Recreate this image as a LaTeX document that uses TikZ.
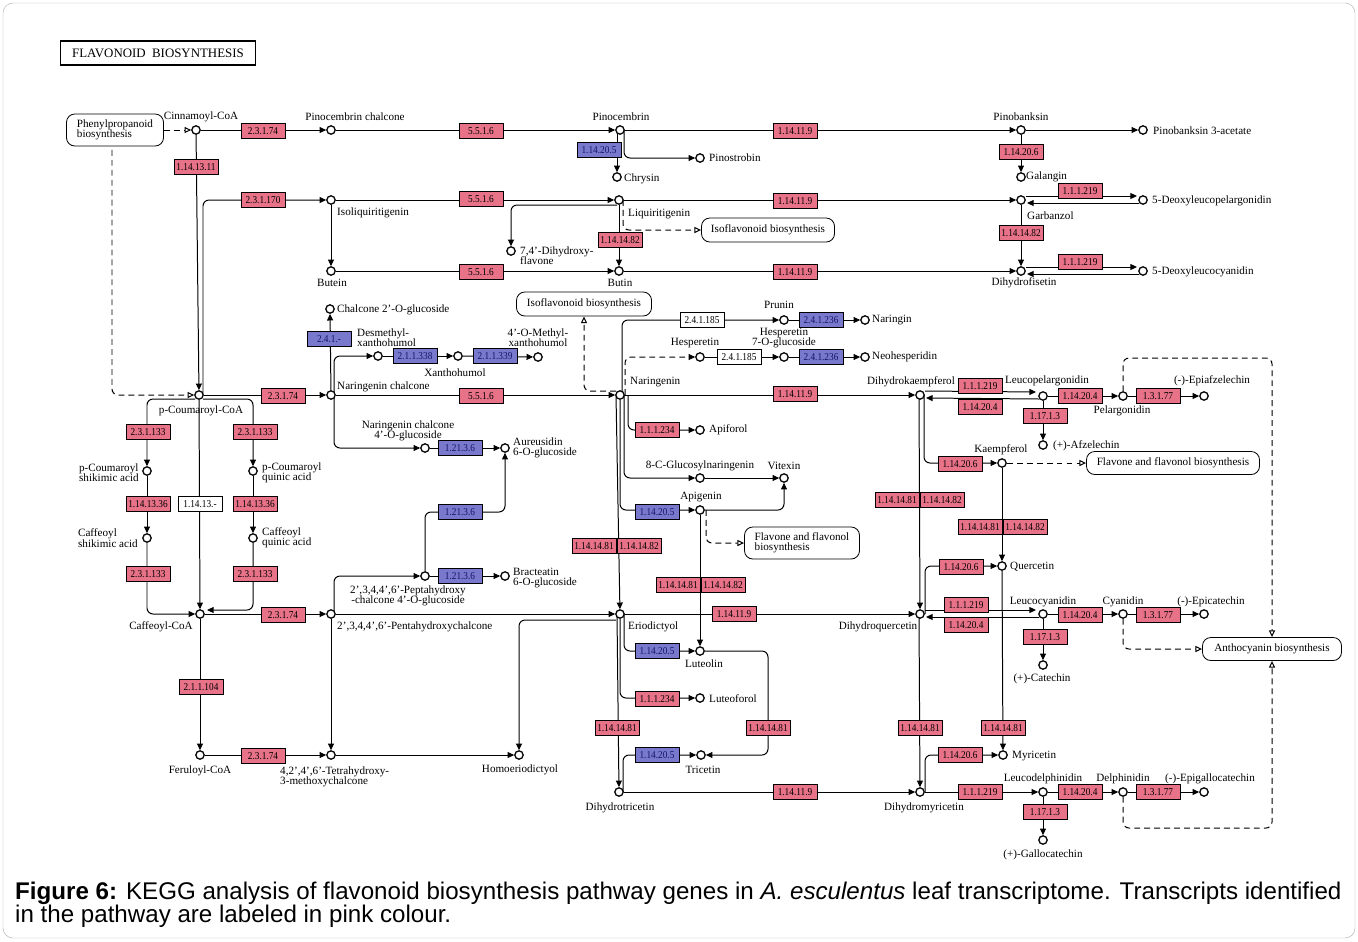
\documentclass[tikz,border=0pt]{standalone}
\usepackage{fontspec}
\setmainfont{Liberation Serif}
\newfontfamily\capfont{Liberation Sans}
\newfontfamily\enzfont{Liberation Serif}[FakeStretch=0.88]
\usetikzlibrary{arrows.meta, calc, backgrounds}
\definecolor{enzpink}{RGB}{232,114,136}
\definecolor{enzblue}{RGB}{120,120,204}
\definecolor{enzbluetext}{RGB}{20,20,105}
\tikzstyle{cpd} = [circle, draw=black, fill=white, line width=1.1pt,
minimum size=0.25cm, inner sep=0pt]
\tikzstyle{enz} = [rectangle, draw=black, fill=enzpink, line width=0.6pt,
minimum width=1.32cm, minimum height=0.44cm, inner sep=0pt,
font=\enzfont\fontsize{9}{9}\selectfont]
\tikzstyle{enzb} = [enz, fill=enzblue, text=enzbluetext]
\tikzstyle{enzw} = [enz, fill=white]
\tikzstyle{map} = [rectangle, rounded corners=0.25cm, draw=black, fill=white,
line width=0.7pt, font=\fontsize{9.5}{9}\selectfont]
\tikzstyle{lbl} = [inner sep=0pt, align=center, font=\fontsize{9.5}{8.8}\selectfont]
\tikzstyle{arrow} = [line width=0.85pt, rounded corners=0.18cm,
-{Triangle[length=2mm,width=1.8mm]}]
\tikzstyle{dasharrow} = [arrow, dash pattern=on 5pt off 3.5pt]
\tikzstyle{maplink} = [line width=0.85pt, rounded corners=0.18cm,
dash pattern=on 5pt off 3.5pt, -{Triangle[open,length=2mm,width=1.8mm]}]

\begin{document}
\begin{tikzpicture}[x=0.03cm, y=-0.03cm]
\useasboundingbox (0,0) rectangle (1358,941);
\draw[gray!60, rounded corners=0.3cm] (3,3) rectangle (1355,938);

% Titre
\node[draw, line width=1.2pt, minimum width=5.85cm, minimum height=0.72cm,
  font=\fontsize{11}{11}\selectfont] (title) at (158,53) {FLAVONOID\ \ BIOSYNTHESIS};

% Cartes voisines
\node[map, minimum width=2.91cm, minimum height=0.96cm, align=left] (mphe) at (115,130) {Phenylpropanoid\\biosynthesis};
\node[map, minimum width=3.99cm, minimum height=0.72cm] (miso1) at (768,230) {Isoflavonoid biosynthesis};
\node[map, minimum width=4.05cm, minimum height=0.72cm] (miso2) at (584,304) {Isoflavonoid biosynthesis};
\node[map, minimum width=3.45cm, minimum height=0.96cm, align=left] (mflv1) at (802,543) {Flavone and flavonol\\biosynthesis};
\node[map, minimum width=5.19cm, minimum height=0.69cm] (mflv2) at (1173,463) {Flavone and flavonol biosynthesis};
\node[map, minimum width=4.17cm, minimum height=0.69cm] (mant) at (1272,649) {Anthocyanin biosynthesis};

% Composes
\node[cpd] (cin) at (196,130) {};
\node[cpd] (pcc) at (331,130) {};
\node[cpd] (pic) at (620,130) {};
\node[cpd] (pbk) at (1021,130) {};
\node[cpd] (pba) at (1143,130) {};
\node[cpd] (gal) at (1021,177) {};
\node[cpd] (chr) at (617,177) {};
\node[cpd] (pst) at (700,158) {};
\node[cpd] (iso) at (331,200) {};
\node[cpd] (liq) at (619,200) {};
\node[cpd] (gar) at (1021,200) {};
\node[cpd] (dlp) at (1143,200) {};
\node[cpd] (dhf) at (511,251) {};
\node[cpd] (but) at (331,271) {};
\node[cpd] (btn) at (619,271) {};
\node[cpd] (dfi) at (1021,271) {};
\node[cpd] (dlc) at (1143,271) {};
\node[cpd] (c2g) at (330,309) {};
\node[cpd] (dxa) at (378,356) {};
\node[cpd] (xan) at (458,356) {};
\node[cpd] (mxa) at (538,357) {};
\node[cpd] (pru) at (784,320) {};
\node[cpd] (nrg) at (865,320) {};
\node[cpd] (hes) at (700,357) {};
\node[cpd] (h7g) at (784,357) {};
\node[cpd] (neo) at (865,357) {};
\node[cpd] (pco) at (199,395) {};
\node[cpd] (nch) at (331,395) {};
\node[cpd] (nar) at (620,395) {};
\node[cpd] (dhk) at (920,395) {};
\node[cpd] (lpg) at (1043,396) {};
\node[cpd] (pel) at (1123,396) {};
\node[cpd] (epa) at (1204,396) {};
\node[cpd] (afz) at (1043,445) {};
\node[cpd] (n4g) at (425,448) {};
\node[cpd] (aur) at (505,448) {};
\node[cpd] (apf) at (700,430) {};
\node[cpd] (kae) at (1002,463) {};
\node[cpd] (pcs) at (147,471) {};
\node[cpd] (pcq) at (253,471) {};
\node[cpd] (cgn) at (700,478) {};
\node[cpd] (vit) at (784,478) {};
\node[cpd] (api) at (700,510) {};
\node[cpd] (cfs) at (147,538) {};
\node[cpd] (cfq) at (253,538) {};
\node[cpd] (que) at (1002,566) {};
\node[cpd] (p4g) at (425,576) {};
\node[cpd] (bra) at (505,576) {};
\node[cpd] (cfc) at (200,614) {};
\node[cpd] (phc) at (331,614) {};
\node[cpd] (eri) at (620,614) {};
\node[cpd] (dhq) at (920,614) {};
\node[cpd] (lcy) at (1043,614) {};
\node[cpd] (cya) at (1123,614) {};
\node[cpd] (epc) at (1204,614) {};
\node[cpd] (cat) at (1043,665) {};
\node[cpd] (lut) at (700,651) {};
\node[cpd] (ltf) at (700,698) {};
\node[cpd] (fer) at (200,755) {};
\node[cpd] (thc) at (331,755) {};
\node[cpd] (hom) at (519,755) {};
\node[cpd] (tri) at (701,755) {};
\node[cpd] (myr) at (1003,755) {};
\node[cpd] (dht) at (619,792) {};
\node[cpd] (dhm) at (920,792) {};
\node[cpd] (ldp) at (1043,792) {};
\node[cpd] (del) at (1123,792) {};
\node[cpd] (egc) at (1204,792) {};
\node[cpd] (gca) at (1043,840) {};

% Reactions (sous les noeuds)
\begin{pgfonlayer}{background}
\draw[maplink] (mphe) -- (cin);
\draw[maplink] ($(mphe)+(-3,0)$) |- (pco);
\draw[arrow] (cin) -- (pcc);
\draw[arrow] (pcc) -- (pic);
\draw[arrow] (pic) -- (pbk);
\draw[arrow] (pbk) -- (pba);
\draw[arrow] (pbk) -- (gal);
\draw[arrow] ($(pic)+(-3,0)$) -- (chr);
\draw[arrow] ($(pic)+(4,0)$) |- (pst);
\draw[arrow] (cin) -- (pco);
\draw[arrow] ($(pco)+(4,0)$) |- (iso);
\draw[arrow] (iso) -- (liq);
\draw[arrow] (liq) -- (gar);
\draw[arrow] (iso) -- (but);
\draw[arrow] ($(liq)+(-2,5)$) -| (dhf);
\draw[arrow] (liq) -- (btn);
\draw[maplink] ($(liq)+(4,0)$) |- (miso1);
\draw[arrow] (but) -- (btn);
\draw[arrow] (btn) -- (dfi);
\draw[arrow] (gar) -- (dfi);
\draw[arrow] ($(gar)+(5,-4)$) -- ($(dlp)+(-6,-4)$);
\draw[arrow] ($(dlp)+(-4,3)$) -- ($(gar)+(6,3)$);
\draw[arrow] ($(dfi)+(5,-4)$) -- ($(dlc)+(-6,-4)$);
\draw[arrow] ($(dlc)+(-4,3)$) -- ($(dfi)+(6,3)$);
% chalcones
\draw[arrow] (nch) -- (c2g);
\draw[arrow] ($(nch)+(3,0)$) |- (dxa);
\draw[arrow] ($(nch)+(3,0)$) |- (n4g);
\draw[arrow] (dxa) -- (xan);
\draw[arrow] (xan) -- (mxa);
\draw[arrow] (n4g) -- (aur);
\draw[arrow] ($(phc)+(3,0)$) |- (p4g);
\draw[arrow] (p4g) -- (bra);
\draw[arrow] (p4g) |- ($(aur)+(0,64)$) -- (aur);
% p-coumaroyl-CoA
\draw[arrow] (pco) -- (nch);
\draw[arrow] ($(pco)+(-4,4)$) -| (pcs);
\draw[arrow] ($(pco)+(4,4)$) -| (pcq);
\draw[arrow] (pcs) -- (cfs);
\draw[arrow] (pcq) -- (cfq);
\draw[arrow] (cfs) |- (cfc);
\draw[arrow] (cfq) |- ($(cfc)+(7,-4)$);
\draw[arrow] (pco) -- (cfc);
\draw[arrow] (cfc) -- (phc);
\draw[arrow] (cfc) -- (fer);
\draw[arrow] (fer) -- (thc);
\draw[arrow] (phc) -- (thc);
\draw[arrow] (phc) -- (eri);
\draw[arrow] (thc) -- (hom);
\draw[arrow] ($(eri)+(-4,6)$) -| (hom);
% naringenine
\draw[arrow] (nch) -- (nar);
\draw[arrow] (nar) -- (dhk);
\draw[arrow] ($(nar)+(-4,0)$) -- (eri);
\draw[arrow] (nar) |- (api);
\draw[arrow] ($(nar)+(4,0)$) |- (cgn);
\draw[arrow] ($(nar)+(8,0)$) |- (apf);
\draw[arrow] ($(nar)+(2,0)$) |- (pru);
\draw[dasharrow] ($(nar)+(5,0)$) |- (hes);
\draw[maplink] ($(nar)+(-4,-4)$) -| (miso2);
\draw[arrow] (pru) -- (nrg);
\draw[arrow] (hes) -- (h7g);
\draw[arrow] (h7g) -- (neo);
\draw[arrow] (cgn) -- (vit);
\draw[arrow] (api) -| (vit);
\draw[maplink] ($(api)+(6,0)$) |- (mflv1);
\draw[arrow] (api) -- (lut);
% eriodictyol
\draw[arrow] ($(eri)+(4,0)$) |- (lut);
\draw[arrow] (eri) |- (ltf);
\draw[arrow] ($(eri)+(-3,0)$) -- (dht);
\draw[arrow] (lut) -- ++(68,0) |- (tri);
\draw[arrow] ($(dht)+(4,0)$) |- (tri);
\draw[arrow] (dht) -- (dhm);
\draw[arrow] (eri) -- (dhq);
% dihydroflavonols
\draw[arrow] ($(dhk)+(5,-4)$) -- ($(lpg)+(-7,-4)$);
\draw[arrow] ($(lpg)+(-4,3)$) -- ($(dhk)+(6,3)$);
\draw[arrow] (lpg) -- (pel);
\draw[arrow] (pel) -- (epa);
\draw[arrow] (lpg) -- (afz);
\draw[maplink] (pel) -- ++(0,-38) -| (mant);
\draw[arrow] ($(dhk)+(4,0)$) |- (kae);
\draw[maplink] (kae) -- (mflv2);
\draw[arrow] (kae) -- (que);
\draw[arrow] ($(dhk)+(-1,0)$) -- (dhq);
\draw[arrow] ($(dhq)+(5,0)$) |- (que);
\draw[arrow] ($(dhq)+(5,-4)$) -- ($(lcy)+(-7,-4)$);
\draw[arrow] ($(lcy)+(-4,3)$) -- ($(dhq)+(6,3)$);
\draw[arrow] (lcy) -- (cya);
\draw[arrow] (cya) -- (epc);
\draw[arrow] (lcy) -- (cat);
\draw[maplink] (cya) |- (mant);
\draw[arrow] ($(dhq)+(-1,0)$) -- (dhm);
\draw[arrow] (que) -- (myr);
\draw[arrow] ($(dhm)+(5,0)$) |- (myr);
\draw[arrow] (dhm) -- (ldp);
\draw[arrow] (ldp) -- (del);
\draw[arrow] (del) -- (egc);
\draw[arrow] (ldp) -- (gca);
\draw[maplink] (del) -- ++(0,36) -| (mant);
\end{pgfonlayer}

% Enzymes
\node[enz] (e1) at (263,131) {2.3.1.74};
\node[enz] (e2) at (196,167) {1.14.13.11};
\node[enz] (e3) at (481,131) {5.5.1.6};
\node[enz] (e4) at (795,131) {1.14.11.9};
\node[enzb] (e5) at (599,150) {1.14.20.5};
\node[enz] (e6) at (1021,152) {1.14.20.6};
\node[enz] (e7) at (263,200) {2.3.1.170};
\node[enz] (e8) at (481,199) {5.5.1.6};
\node[enz] (e9) at (795,201) {1.14.11.9};
\node[enz] (e10) at (620,240) {1.14.14.82};
\node[enz] (e11) at (1080,191) {1.1.1.219};
\node[enz] (e12) at (1021,233) {1.14.14.82};
\node[enz] (e13) at (481,272) {5.5.1.6};
\node[enz] (e14) at (795,272) {1.14.11.9};
\node[enz] (e15) at (1080,262) {1.1.1.219};
\node[enzb] (e16) at (329,339) {2.4.1.-};
\node[enzb] (e17) at (415,356) {2.1.1.338};
\node[enzb] (e18) at (495,356) {2.1.1.339};
\node[enzw] (e19) at (702,320) {2.4.1.185};
\node[enzb] (e20) at (821,320) {2.4.1.236};
\node[enzw] (e21) at (739,357) {2.4.1.185};
\node[enzb] (e22) at (821,357) {2.4.1.236};
\node[enz] (e23) at (283,396) {2.3.1.74};
\node[enz] (e24) at (481,396) {5.5.1.6};
\node[enz] (e25) at (795,394) {1.14.11.9};
\node[enz] (e26) at (980,386) {1.1.1.219};
\node[enz] (e27) at (980,407) {1.14.20.4};
\node[enz] (e28) at (1080,396) {1.14.20.4};
\node[enz] (e29) at (1158,396) {1.3.1.77};
\node[enz] (e30) at (1045,416) {1.17.1.3};
\node[enz] (e31) at (148,432) {2.3.1.133};
\node[enz] (e32) at (255,432) {2.3.1.133};
\node[enzb] (e33) at (460,448) {1.21.3.6};
\node[enz] (e34) at (657,430) {1.1.1.234};
\node[enz] (e35) at (960,464) {1.14.20.6};
\node[enz] (e36) at (897,500) {1.14.14.81};
\node[enz] (e37) at (942,500) {1.14.14.82};
\node[enz] (e38) at (148,504) {1.14.13.36};
\node[enzw] (e39) at (200,504) {1.14.13.-};
\node[enz] (e40) at (255,504) {1.14.13.36};
\node[enzb] (e41) at (460,512) {1.21.3.6};
\node[enzb] (e42) at (657,512) {1.14.20.5};
\node[enz] (e43) at (980,527) {1.14.14.81};
\node[enz] (e44) at (1025,527) {1.14.14.82};
\node[enz] (e45) at (594,546) {1.14.14.81};
\node[enz] (e46) at (639,546) {1.14.14.82};
\node[enz] (e47) at (678,585) {1.14.14.81};
\node[enz] (e48) at (723,585) {1.14.14.82};
\node[enz] (e49) at (961,567) {1.14.20.6};
\node[enz] (e50) at (148,574) {2.3.1.133};
\node[enz] (e51) at (255,574) {2.3.1.133};
\node[enzb] (e52) at (460,576) {1.21.3.6};
\node[enz] (e53) at (283,615) {2.3.1.74};
\node[enz] (e54) at (734,614) {1.14.11.9};
\node[enz] (e55) at (966,605) {1.1.1.219};
\node[enz] (e56) at (966,625) {1.14.20.4};
\node[enz] (e57) at (1080,615) {1.14.20.4};
\node[enz] (e58) at (1158,615) {1.3.1.77};
\node[enz] (e59) at (1045,637) {1.17.1.3};
\node[enzb] (e60) at (657,651) {1.14.20.5};
\node[enz] (e61) at (201,687) {2.1.1.104};
\node[enz] (e62) at (657,699) {1.1.1.234};
\node[enz] (e63) at (617,728) {1.14.14.81};
\node[enz] (e64) at (768,728) {1.14.14.81};
\node[enz] (e65) at (920,728) {1.14.14.81};
\node[enz] (e66) at (1003,728) {1.14.14.81};
\node[enz] (e67) at (263,756) {2.3.1.74};
\node[enzb] (e68) at (657,755) {1.14.20.5};
\node[enz] (e69) at (960,755) {1.14.20.6};
\node[enz] (e70) at (795,792) {1.14.11.9};
\node[enz] (e71) at (980,792) {1.1.1.219};
\node[enz] (e72) at (1080,792) {1.14.20.4};
\node[enz] (e73) at (1158,792) {1.3.1.77};
\node[enz] (e74) at (1045,812) {1.17.1.3};

% Noms des composes
\node[lbl] (tcin) at (201,117) {Cinnamoyl-CoA};
\node[lbl] (tpcc) at (355,117) {Pinocembrin chalcone};
\node[lbl] (tpic) at (621,117) {Pinocembrin};
\node[lbl] (tpbk) at (1021,117) {Pinobanksin};
\node[lbl, anchor=west] (tpba) at (1153,131) {Pinobanksin 3-acetate};
\node[lbl, anchor=west] (tgal) at (1026,177) {Galangin};
\node[lbl, anchor=west] (tchr) at (624,179) {Chrysin};
\node[lbl, anchor=west] (tpst) at (709,158) {Pinostrobin};
\node[lbl, anchor=west] (tiso) at (337,213) {Isoliquiritigenin};
\node[lbl, anchor=west] (tliq) at (628,214) {Liquiritigenin};
\node[lbl, anchor=west] (tgar) at (1027,216) {Garbanzol};
\node[lbl, anchor=west] (tdlp) at (1152,201) {5-Deoxyleucopelargonidin};
\node[lbl, anchor=west, align=left] (tdhf) at (520,256) {7,4'-Dihydroxy-\\flavone};
\node[lbl] (tbut) at (332,283) {Butein};
\node[lbl] (tbtn) at (620,283) {Butin};
\node[lbl] (tdfi) at (1024,283) {Dihydrofisetin};
\node[lbl, anchor=west] (tdlc) at (1152,272) {5-Deoxyleucocyanidin};
\node[lbl, anchor=west] (tc2g) at (337,310) {Chalcone 2'-O-glucoside};
\node[lbl, anchor=west, align=left] (tdxa) at (357,338) {Desmethyl-\\xanthohumol};
\node[lbl] (txan) at (455,373) {Xanthohumol};
\node[lbl] (tmxa) at (538,338) {4'-O-Methyl-\\xanthohumol};
\node[lbl] (tpru) at (779,305) {Prunin};
\node[lbl, anchor=west] (tnrg) at (872,320) {Naringin};
\node[lbl] (thes) at (695,343) {Hesperetin};
\node[lbl] (th7g) at (784,338) {Hesperetin\\7-O-glucoside};
\node[lbl, anchor=west] (tneo) at (872,357) {Neohesperidin};
\node[lbl] (tpco) at (201,411) {p-Coumaroyl-CoA};
\node[lbl, anchor=west] (tnch) at (337,387) {Naringenin chalcone};
\node[lbl, anchor=west] (tnar) at (630,382) {Naringenin};
\node[lbl] (tdhk) at (911,382) {Dihydrokaempferol};
\node[lbl] (tlpg) at (1047,381) {Leucopelargonidin};
\node[lbl] (tpel) at (1122,411) {Pelargonidin};
\node[lbl] (tepa) at (1212,381) {(-)-Epiafzelechin};
\node[lbl, anchor=west] (tafz) at (1053,446) {(+)-Afzelechin};
\node[lbl] (tn4g) at (408,431) {Naringenin chalcone\\4'-O-glucoside};
\node[lbl, anchor=west, align=left] (taur) at (513,448) {Aureusidin\\6-O-glucoside};
\node[lbl, anchor=west] (tapf) at (709,430) {Apiforol};
\node[lbl] (tkae) at (1001,450) {Kaempferol};
\node[lbl, anchor=east, align=left] (tpcs) at (139,473) {p-Coumaroyl\\shikimic acid};
\node[lbl, anchor=west, align=left] (tpcq) at (262,473) {p-Coumaroyl\\quinic acid};
\node[lbl, anchor=east, align=left] (tcfs) at (138,538) {Caffeoyl\\shikimic acid};
\node[lbl, anchor=west, align=left] (tcfq) at (262,538) {Caffeoyl\\quinic acid};
\node[lbl] (tcgn) at (700,466) {8-C-Glucosylnaringenin};
\node[lbl] (tvit) at (784,466) {Vitexin};
\node[lbl] (tapi) at (701,497) {Apigenin};
\node[lbl, anchor=west] (tque) at (1010,567) {Quercetin};
\node[lbl] (tp4g) at (408,596) {2',3,4,4',6'-Peptahydroxy\\-chalcone 4'-O-glucoside};
\node[lbl, anchor=west, align=left] (tbra) at (513,578) {Bracteatin\\6-O-glucoside};
\node[lbl] (tcfc) at (161,627) {Caffeoyl-CoA};
\node[lbl, anchor=west] (tphc) at (337,627) {2',3,4,4',6'-Pentahydroxychalcone};
\node[lbl, anchor=west] (teri) at (628,627) {Eriodictyol};
\node[lbl] (tdhq) at (878,627) {Dihydroquercetin};
\node[lbl] (tlcy) at (1043,602) {Leucocyanidin};
\node[lbl] (tcya) at (1123,602) {Cyanidin};
\node[lbl] (tepc) at (1211,602) {(-)-Epicatechin};
\node[lbl] (tcat) at (1042,679) {(+)-Catechin};
\node[lbl] (tlut) at (704,664) {Luteolin};
\node[lbl, anchor=west] (tltf) at (709,699) {Luteoforol};
\node[lbl] (tfer) at (200,771) {Feruloyl-CoA};
\node[lbl, anchor=west, align=left] (tthc) at (280,777) {4,2',4',6'-Tetrahydroxy-\\3-methoxychalcone};
\node[lbl] (thom) at (520,770) {Homoeriodictyol};
\node[lbl] (ttri) at (703,770) {Tricetin};
\node[lbl, anchor=west] (tmyr) at (1012,756) {Myricetin};
\node[lbl] (tdht) at (620,808) {Dihydrotricetin};
\node[lbl] (tdhm) at (924,808) {Dihydromyricetin};
\node[lbl] (tldp) at (1043,779) {Leucodelphinidin};
\node[lbl] (tdel) at (1123,779) {Delphinidin};
\node[lbl] (tegc) at (1210,779) {(-)-Epigallocatechin};
\node[lbl] (tgca) at (1043,855) {(+)-Gallocatechin};

% Legende
\node[anchor=north west, align=left, inner sep=0pt,
  font=\capfont\fontsize{20.6}{19.6}\selectfont] (cap) at (15,882)
  {\textbf{Figure 6:} KEGG analysis of flavonoid biosynthesis pathway genes in \textit{A. esculentus} leaf transcriptome. Transcripts identified\\in the pathway are labeled in pink colour.};

\end{tikzpicture}
\end{document}
